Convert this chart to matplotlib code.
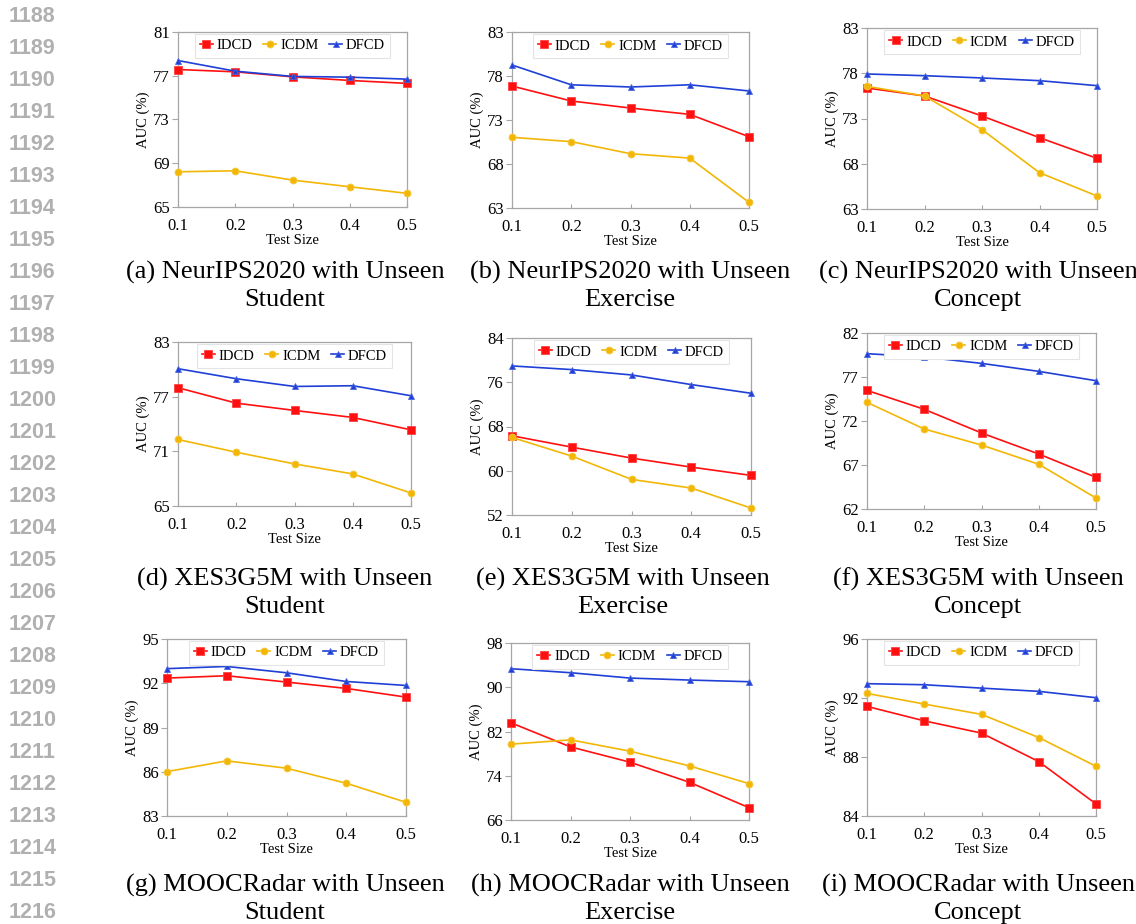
import matplotlib
matplotlib.use("Agg")
import matplotlib.pyplot as plt

# test sizes shared by every panel
test_size = [0.1, 0.2, 0.3, 0.4, 0.5]

# AUC (%) values, one list per method and panel
idcd_a = [77.57, 77.36, 76.90, 76.57, 76.30]
icdm_a = [68.22, 68.31, 67.46, 66.85, 66.25]
dfcd_a = [78.39, 77.42, 76.94, 76.87, 76.69]

idcd_b = [76.86, 75.16, 74.36, 73.64, 71.10]
icdm_b = [71.03, 70.54, 69.17, 68.67, 63.64]
dfcd_b = [79.25, 77.00, 76.75, 77.00, 76.30]

idcd_c = [76.37, 75.49, 73.28, 70.88, 68.60]
icdm_c = [76.55, 75.49, 71.77, 67.01, 64.44]
dfcd_c = [77.92, 77.73, 77.48, 77.18, 76.63]

idcd_d = [77.98, 76.29, 75.49, 74.72, 73.36]
icdm_d = [72.30, 70.90, 69.62, 68.52, 66.43]
dfcd_d = [80.07, 78.97, 78.12, 78.20, 77.10]

idcd_e = [66.32, 64.27, 62.29, 60.66, 59.16]
icdm_e = [66.02, 62.65, 58.44, 56.87, 53.26]
dfcd_e = [78.95, 78.29, 77.32, 75.58, 74.01]

idcd_f = [75.48, 73.33, 70.64, 68.25, 65.60]
icdm_f = [74.12, 71.09, 69.27, 67.08, 63.25]
dfcd_f = [79.65, 79.27, 78.55, 77.64, 76.58]

idcd_g = [92.35, 92.51, 92.08, 91.65, 91.06]
icdm_g = [86.01, 86.74, 86.24, 85.22, 83.93]
dfcd_g = [92.99, 93.14, 92.71, 92.12, 91.85]

idcd_h = [83.57, 79.22, 76.45, 72.82, 68.23]
icdm_h = [79.71, 80.49, 78.44, 75.78, 72.58]
dfcd_h = [93.35, 92.63, 91.66, 91.30, 91.00]

idcd_i = [91.43, 90.45, 89.62, 87.69, 84.82]
icdm_i = [92.31, 91.59, 90.89, 89.32, 87.37]
dfcd_i = [92.97, 92.90, 92.67, 92.45, 92.02]

# y ticks per panel
yticks_a = [65, 69, 73, 77, 81]
yticks_b = [63, 68, 73, 78, 83]
yticks_c = [63, 68, 73, 78, 83]
yticks_d = [65, 71, 77, 83]
yticks_e = [52, 60, 68, 76, 84]
yticks_f = [62, 67, 72, 77, 82]
yticks_g = [83, 86, 89, 92, 95]
yticks_h = [66, 74, 82, 90, 98]
yticks_i = [84, 88, 92, 96]

captions = [
    "(a) NeurIPS2020 with Unseen\nStudent",
    "(b) NeurIPS2020 with Unseen\nExercise",
    "(c) NeurIPS2020 with Unseen\nConcept",
    "(d) XES3G5M with Unseen\nStudent",
    "(e) XES3G5M with Unseen\nExercise",
    "(f) XES3G5M with Unseen\nConcept",
    "(g) MOOCRadar with Unseen\nStudent",
    "(h) MOOCRadar with Unseen\nExercise",
    "(i) MOOCRadar with Unseen\nConcept",
]

line_numbers = list(range(1188, 1217))

W, H = 1136, 924
SERIF = "Liberation Serif"
GREY = "#a6a6a6"

fig = plt.figure(figsize=(W / 100, H / 100), dpi=100)

# axes boxes in pixels: left, top, right, bottom
boxes = [
    (178, 32, 407, 207), (512, 32, 749, 208), (867, 28, 1097, 209),
    (178, 342, 411, 506), (512, 338, 751, 515), (867, 333, 1096, 509),
    (167, 639, 406, 816), (511, 643, 749, 820), (867, 639, 1096, 816),
]
# caption centre x and the y of its first line (pixels)
caption_xy = [
    (285, 272), (630, 272), (978, 272),
    (285, 579), (623, 579), (978, 579),
    (285, 885), (630, 885), (978, 885),
]

panels = [
    (idcd_a, icdm_a, dfcd_a, yticks_a),
    (idcd_b, icdm_b, dfcd_b, yticks_b),
    (idcd_c, icdm_c, dfcd_c, yticks_c),
    (idcd_d, icdm_d, dfcd_d, yticks_d),
    (idcd_e, icdm_e, dfcd_e, yticks_e),
    (idcd_f, icdm_f, dfcd_f, yticks_f),
    (idcd_g, icdm_g, dfcd_g, yticks_g),
    (idcd_h, icdm_h, dfcd_h, yticks_h),
    (idcd_i, icdm_i, dfcd_i, yticks_i),
]

for k, (idcd, icdm, dfcd, yt) in enumerate(panels):
    l, t, r, b = boxes[k]
    ax = fig.add_axes([l / W, 1 - b / H, (r - l) / W, (b - t) / H])
    ax.plot(test_size, idcd, color="#ff1010", marker="s", markersize=5.5,
            linewidth=1.2, markeredgecolor="#ff4040", markeredgewidth=0.6,
            label="IDCD", clip_on=False, zorder=3)
    ax.plot(test_size, icdm, color="#f2b705", marker="o", markersize=5,
            linewidth=1.2, markeredgecolor="#f5c840", markeredgewidth=0.6,
            label="ICDM", clip_on=False, zorder=3)
    ax.plot(test_size, dfcd, color="#1f3fd6", marker="^", markersize=5,
            linewidth=1.2, markeredgecolor="#4a66e0", markeredgewidth=0.6,
            label="DFCD", clip_on=False, zorder=4)
    ax.set_xlim(0.1, 0.5)
    ax.set_ylim(yt[0], yt[-1])
    ax.set_xticks(test_size)
    ax.set_xticklabels(["0.1", "0.2", "0.3", "0.4", "0.5"])
    ax.set_yticks(yt)
    for s in ax.spines.values():
        s.set_color(GREY)
        s.set_linewidth(0.9)
    ax.tick_params(axis="y", direction="out", length=4, color=GREY,
                   labelsize=12, pad=2)
    ax.tick_params(axis="x", direction="in", length=3, color=GREY,
                   labelsize=12, pad=8)
    for lab in ax.get_xticklabels() + ax.get_yticklabels():
        lab.set_fontfamily(SERIF)
    ax.set_xlabel("Test Size", fontsize=10.5, fontfamily=SERIF, labelpad=0)
    ax.set_ylabel("AUC (%)", fontsize=10.5, fontfamily=SERIF, labelpad=2)
    leg = ax.legend(loc="upper center", ncol=3, fancybox=False,
                    prop={"family": SERIF, "size": 10.5},
                    handlelength=0.9, handletextpad=0.25, columnspacing=0.75,
                    borderpad=0.35, borderaxespad=0.15, framealpha=1)
    leg.get_frame().set_edgecolor("#e4e4e4")
    leg.get_frame().set_linewidth(0.8)

    cx, cy = caption_xy[k]
    for j, line in enumerate(captions[k].split("\n")):
        fig.text(cx / W, 1 - (cy + 28 * j) / H, line, ha="center", va="center",
                 fontsize=19, fontfamily=SERIF)

# manuscript line numbers in the margin
for i, n in enumerate(line_numbers):
    y = 17 + i * 32.0
    fig.text(9 / W, 1 - y / H, str(n), ha="left", va="center",
             fontsize=15.5, fontweight="bold", fontfamily="Liberation Sans",
             color="#b0b0b0")

fig.savefig("out.png", dpi=100)
